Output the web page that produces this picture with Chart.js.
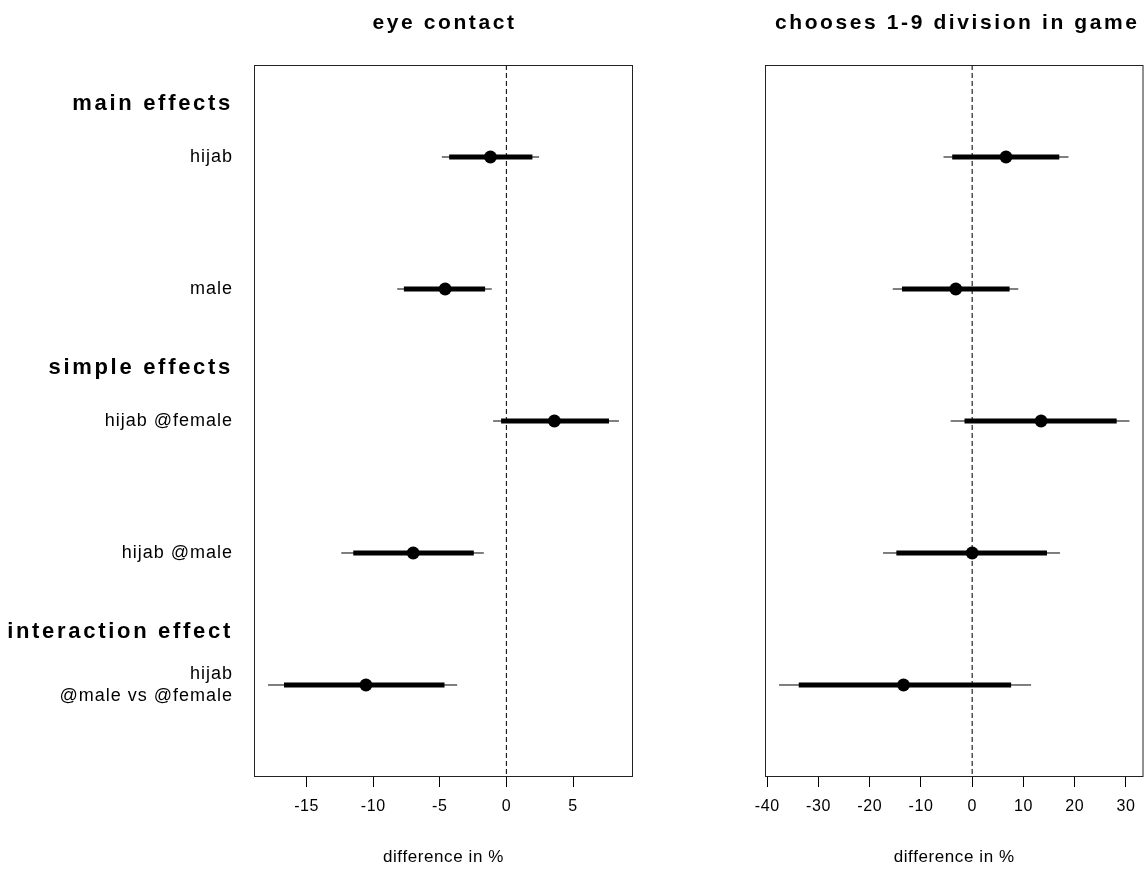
<!DOCTYPE html>
<html>
<head>
<meta charset="utf-8">
<script src="https://cdn.jsdelivr.net/npm/chart.js@4/dist/chart.umd.min.js"></script>
<style>
  body { margin: 0; background: #fff; overflow: hidden; }
  #wrap { position: relative; width: 1144px; height: 869px; overflow: hidden; }
  canvas { position: absolute; top: 0; }
  #left { left: 0; }
  #right { left: 700px; }
</style>
</head>
<body>
<div id="wrap">
  <canvas id="left" width="645" height="869"></canvas>
  <canvas id="right" width="450" height="869"></canvas>
</div>
<script>
const FONT = "'Liberation Sans', Arial, Helvetica, sans-serif";

// rows, top to bottom
const rowLabels = [['hijab'], ['male'], ['hijab @female'], ['hijab @male'], ['hijab', '@male vs @female']];
const rowPos = [1, 2, 3, 4, 5];
const groupHeadings = ['main effects', 'simple effects', 'interaction effect'];
const groupPos = [0.6, 2.6, 4.6];

// eye contact (difference in %)
const eyeEst = [-1.2, -4.6, 3.6, -7.0, -10.55];
const eyeLoThin = [-4.85, -8.2, -1.0, -12.4, -17.9];
const eyeHiThin = [2.45, -1.1, 8.45, -1.7, -3.7];
const eyeLoThick = [-4.3, -7.7, -0.4, -11.5, -16.7];
const eyeHiThick = [1.95, -1.6, 7.7, -2.45, -4.65];
const eyeTicks = [-15, -10, -5, 0, 5];

// chooses 1-9 division in game (difference in %)
const gameEst = [6.6, -3.2, 13.45, 0.0, -13.4];
const gameLoThin = [-5.6, -15.5, -4.2, -17.4, -37.7];
const gameHiThin = [18.8, 9.0, 30.7, 17.15, 11.5];
const gameLoThick = [-3.9, -13.7, -1.5, -14.8, -33.85];
const gameHiThick = [17.0, 7.3, 28.2, 14.6, 7.6];
const gameTicks = [-40, -30, -20, -10, 0, 10, 20, 30];

const yMin = 0.303;
const yMax = 5.697;

function segments(lo, hi, width) {
  return rowPos.map((y, i) => ({
    data: [{ x: lo[i], y: y }, { x: hi[i], y: y }],
    showLine: true,
    pointRadius: 0,
    borderColor: '#000',
    borderWidth: width,
    borderCapStyle: 'butt',
    order: width > 2 ? 2 : 3,
  }));
}

const panelPlugin = {
  id: 'panel',
  beforeDraw(chart) {
    chart.ctx.letterSpacing = '0.6px';
  },
  afterDraw(chart, args, opts) {
    const { ctx, chartArea, scales } = chart;
    ctx.save();
    ctx.strokeStyle = '#222';
    ctx.lineWidth = 1;
    ctx.strokeRect(chartArea.left + 0.5, chartArea.top + 0.5, chartArea.width - 1, chartArea.height - 1);

    ctx.fillStyle = '#000';
    ctx.textBaseline = 'middle';
    ctx.textAlign = 'center';
    ctx.font = 'bold 21px ' + FONT;
    ctx.letterSpacing = '2.6px';
    ctx.fillText(opts.title, (chartArea.left + chartArea.right) / 2 + opts.titleShift, 23);

    if (opts.rowLabels) {
      const xr = chartArea.left - 22;
      ctx.textAlign = 'right';
      ctx.font = 'bold 22px ' + FONT;
      ctx.letterSpacing = '2.7px';
      groupHeadings.forEach((h, i) => {
        ctx.fillText(h, xr + 1, scales.y.getPixelForValue(groupPos[i]));
      });
      ctx.font = '18px ' + FONT;
      ctx.letterSpacing = '1px';
      rowLabels.forEach((lines, i) => {
        const yc = scales.y.getPixelForValue(rowPos[i]);
        lines.forEach((t, j) => {
          ctx.fillText(t, xr + 1, yc + (j - (lines.length - 1) / 2) * 22);
        });
      });
    }
    ctx.restore();
  }
};

function makePanel(id, title, est, loThin, hiThin, loThick, hiThick, tickVals, padLeft, padRight, showRows, titleShift) {
  const lo = Math.min(...loThin);
  const hi = Math.max(...hiThin);
  const pad = (hi - lo) * 0.04;

  const datasets = [
    {
      data: [{ x: 0, y: yMin }, { x: 0, y: yMax }],
      showLine: true,
      pointRadius: 0,
      borderColor: '#222',
      borderWidth: 1.2,
      borderDash: [5, 3],
      order: 10,
    },
    ...segments(loThin, hiThin, 1),
    ...segments(loThick, hiThick, 5),
    {
      data: est.map((v, i) => ({ x: v, y: rowPos[i] })),
      pointRadius: 6.5,
      pointBackgroundColor: '#000',
      pointBorderWidth: 0,
      order: 1,
    },
  ];

  return new Chart(document.getElementById(id), {
    type: 'scatter',
    data: { datasets },
    options: {
      responsive: false,
      animation: false,
      layout: { padding: { left: padLeft, right: padRight, top: 65, bottom: 0 } },
      plugins: {
        legend: { display: false },
        tooltip: { enabled: false },
        panel: { title: title, rowLabels: showRows, titleShift: titleShift },
      },
      scales: {
        x: {
          type: 'linear',
          position: 'bottom',
          min: lo - pad,
          max: hi + pad,
          afterBuildTicks: (axis) => { axis.ticks = tickVals.map((v) => ({ value: v })); },
          afterFit: (scale) => { scale.height = 92; },
          grid: { drawOnChartArea: false, drawTicks: true, tickLength: 10, color: '#000', lineWidth: 1 },
          border: { display: false },
          ticks: { color: '#000', font: { family: FONT, size: 16 }, padding: 10, maxRotation: 0, autoSkip: false },
          title: {
            display: true,
            text: 'difference in %',
            color: '#000',
            font: { family: FONT, size: 17 },
            padding: { top: 0, bottom: 1 },
          },
        },
        y: {
          type: 'linear',
          display: false,
          reverse: true,
          min: yMin,
          max: yMax,
        },
      },
    },
    plugins: [panelPlugin],
  });
}

makePanel('left', 'eye contact', eyeEst, eyeLoThin, eyeHiThin, eyeLoThick, eyeHiThick, eyeTicks, 254, 12, true, 1);
makePanel('right', 'chooses 1-9 division in game', gameEst, gameLoThin, gameHiThin, gameLoThick, gameHiThick, gameTicks, 65, 1, false, 3);
</script>
</body>
</html>
